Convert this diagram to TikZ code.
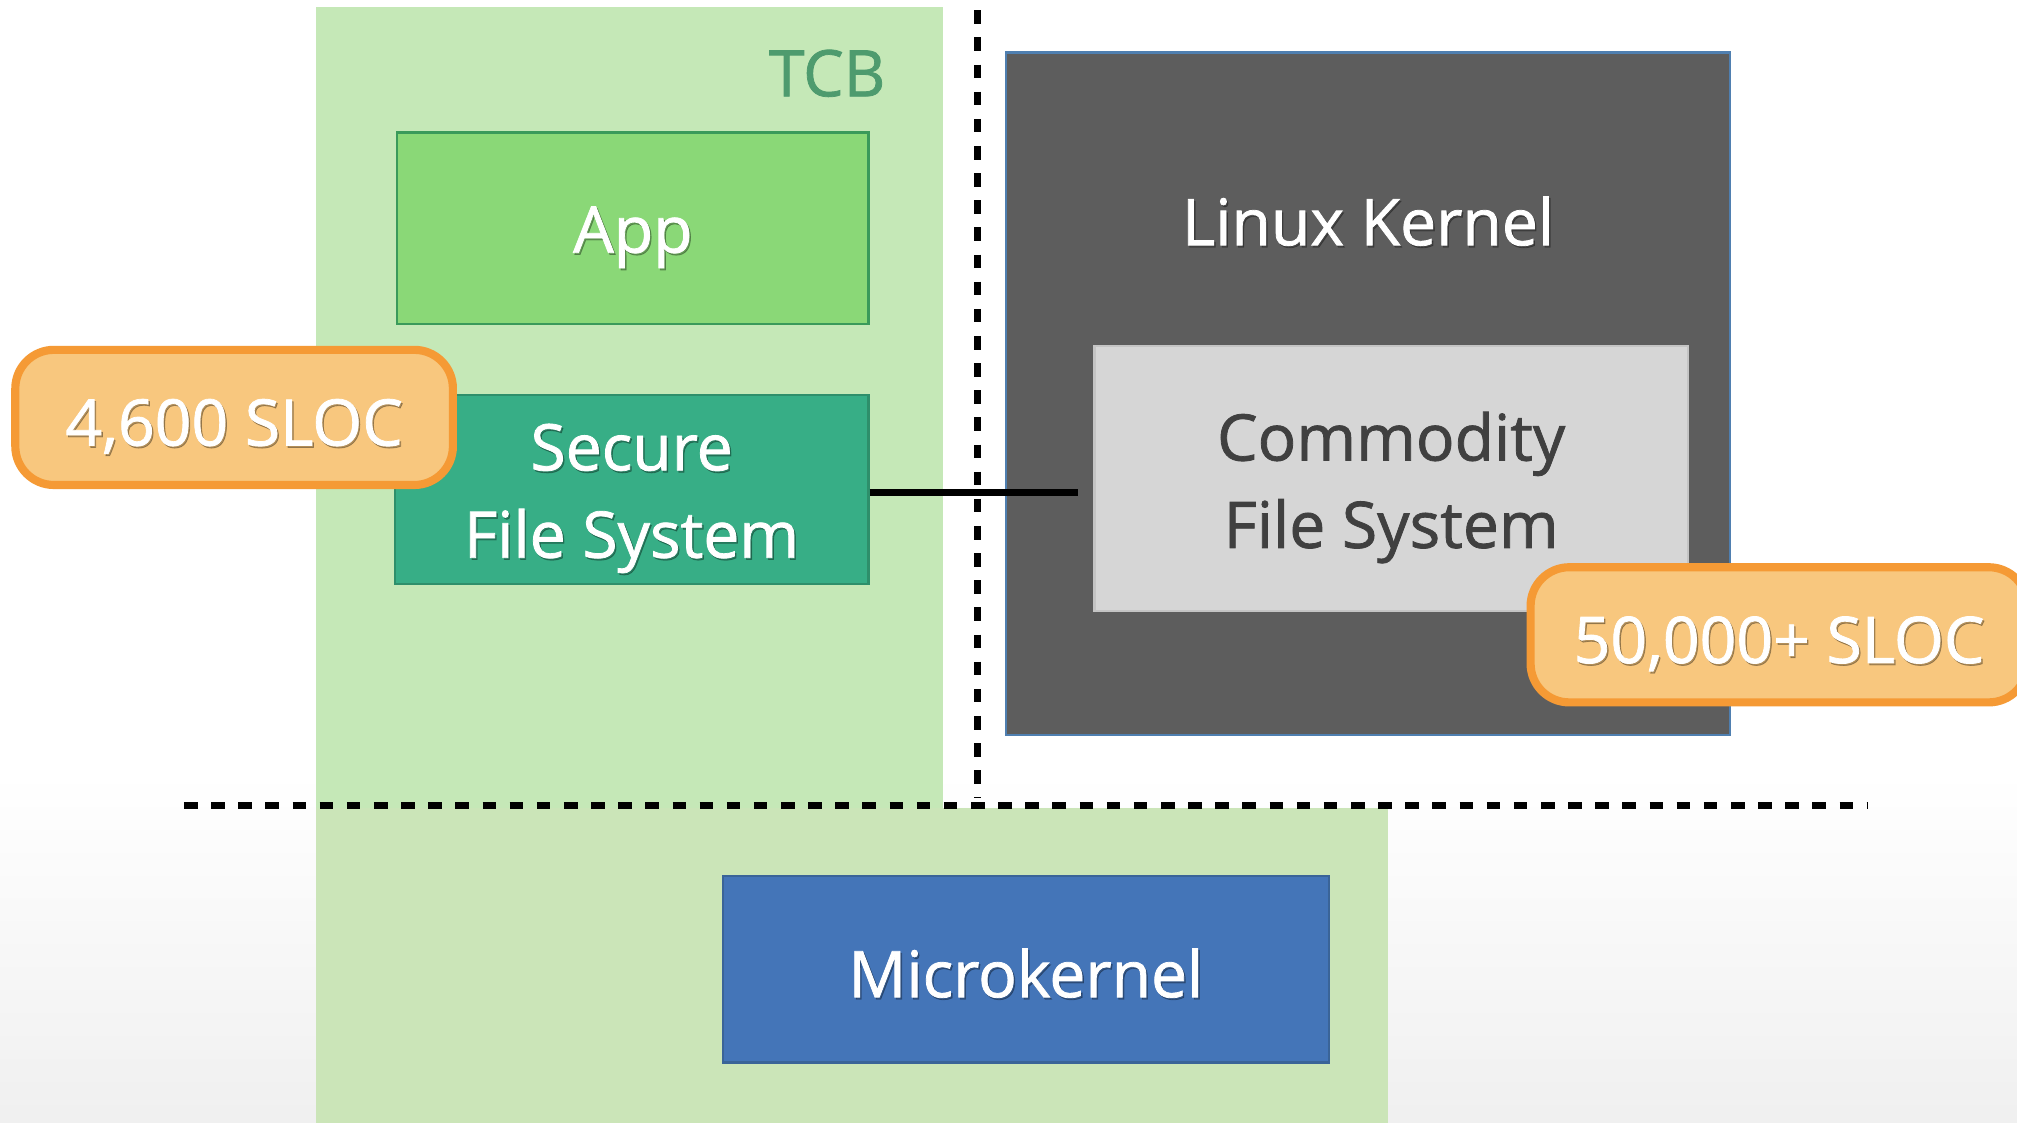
\documentclass[tikz,border=0pt]{standalone}
\usepackage{fontspec}
\setmainfont{Open Sans}
\newfontfamily\labelfont{Open Sans}[FakeBold=1.2]
\usetikzlibrary{positioning}
\definecolor{tcbgreen}{HTML}{C5E8B7}
\definecolor{lowgreen}{HTML}{CBE5B8}
\definecolor{tcbtext}{HTML}{4E9B6E}
\definecolor{appgreen}{HTML}{8AD877}
\definecolor{appborder}{HTML}{3A9A5A}
\definecolor{sfsgreen}{HTML}{37AE86}
\definecolor{sfsborder}{HTML}{2E8F6B}
\definecolor{kernelgray}{HTML}{5D5D5D}
\definecolor{kernelborder}{HTML}{4F7FB0}
\definecolor{cfsgray}{HTML}{D6D6D6}
\definecolor{cfsborder}{HTML}{C4C4C4}
\definecolor{cfstext}{HTML}{404040}
\definecolor{microblue}{HTML}{4475B8}
\definecolor{microborder}{HTML}{3A6498}
\definecolor{slocfill}{HTML}{F8C77E}
\definecolor{slocborder}{HTML}{F59A35}
\tikzset{
  bigtext/.style={font=\labelfont\fontsize{14.2}{19.3}\selectfont, align=center},
  plainbox/.style={rectangle, inner sep=0pt, line width=0.5pt},
  slocbox/.style={rectangle, rounded corners=0.3cm, fill=slocfill, draw=slocborder,
    line width=1.8pt, inner sep=0pt},
  shadowlabel/.style={bigtext, text=black, opacity=0.28, xshift=0.012cm, yshift=-0.085cm},
  whitelabel/.style={bigtext, text=white, yshift=-0.07cm},
  divider/.style={line width=1.6pt, dash pattern=on 3pt off 3pt},
}
\begin{document}
\begin{tikzpicture}[x=0.01cm,y=-0.01cm]
\clip (0,0) rectangle (1568,873);
\fill[white] (0,0) rectangle (1568,873);
\shade[top color=white,bottom color=gray!12] (0,600) rectangle (1568,873);
% regions
\node[plainbox, fill=tcbgreen, minimum width=4.87cm, minimum height=6.22cm] (tcb) at (489.5,317) {};
\node[plainbox, fill=lowgreen, minimum width=8.33cm, minimum height=2.52cm] (low) at (662.5,754) {};
\node[bigtext, text=tcbtext] (tcblabel) at (643,57) {TCB};
% boxes
\node[plainbox, fill=appgreen, draw=appborder, minimum width=3.66cm, minimum height=1.49cm,
  label={[shadowlabel]center:App}, label={[whitelabel]center:App}] (app) at (492,177.5) {};
\node[plainbox, fill=sfsgreen, draw=sfsborder, minimum width=3.68cm, minimum height=1.47cm,
  label={[shadowlabel]center:Secure\\File System}, label={[whitelabel]center:Secure\\File System}] (sfs) at (491,380.5) {};
\node[plainbox, fill=kernelgray, draw=kernelborder, minimum width=5.63cm, minimum height=5.30cm,
  label={[shadowlabel, yshift=1.41cm]center:Linux Kernel}, label={[whitelabel, yshift=1.41cm]center:Linux Kernel}] (linux) at (1063.5,306) {};
\node[plainbox, fill=cfsgray, draw=cfsborder, minimum width=4.61cm, minimum height=2.06cm,
  label={[bigtext, text=cfstext, yshift=-0.07cm]center:Commodity\\File System}] (cfs) at (1081.5,372) {};
\node[plainbox, fill=microblue, draw=microborder, minimum width=4.71cm, minimum height=1.45cm,
  label={[shadowlabel, yshift=0.04cm]center:Microkernel}, label={[whitelabel, yshift=0.04cm]center:Microkernel}] (micro) at (797.5,753.5) {};
% dividers
\coordinate (vtop) at (760,8);
\coordinate (vbot) at (760,620);
\coordinate (hleft) at (143,626);
\coordinate (hright) at (1452,624);
\draw[divider] (vtop) -- (vbot);
\draw[divider] (hleft) -- (hleft -| hright);
% connector
\coordinate (cend) at (838,383);
\draw[line width=1.5pt] (sfs.east |- cend) -- (cend);
% SLOC labels
\node[slocbox, minimum width=3.40cm, minimum height=1.05cm,
  label={[shadowlabel]center:4,600 SLOC}, label={[whitelabel]center:4,600 SLOC}] (sloc1) at (182,324.5) {};
\node[slocbox, minimum width=3.86cm, minimum height=1.05cm,
  label={[shadowlabel]center:50,000+ SLOC}, label={[whitelabel]center:50,000+ SLOC}] (sloc2) at (1383,493.5) {};
\end{tikzpicture}
\end{document}
